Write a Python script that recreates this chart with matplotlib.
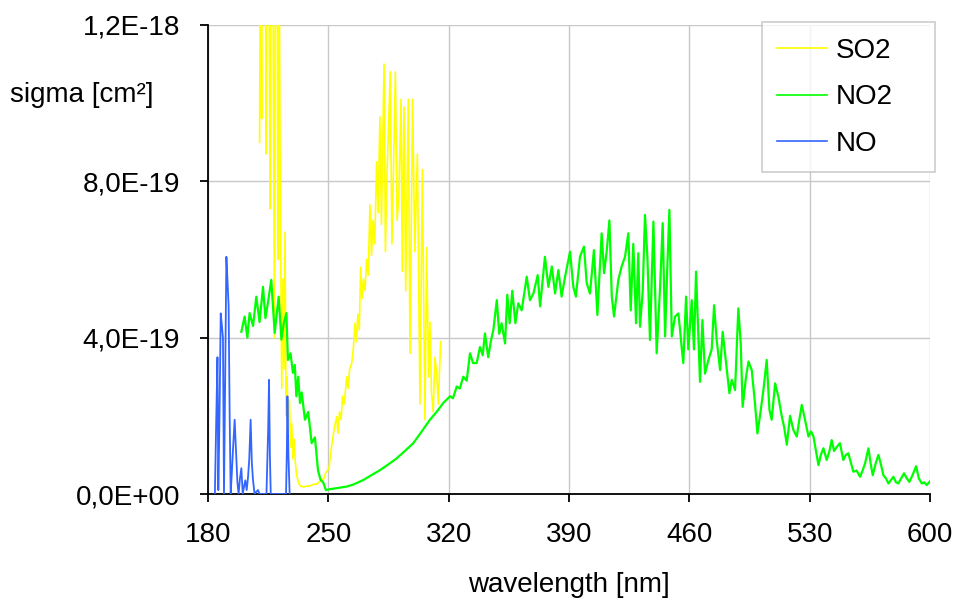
import matplotlib
matplotlib.use("Agg")
import matplotlib.pyplot as plt
from matplotlib.ticker import FixedLocator, FixedFormatter

plt.rcParams['font.family'] = ['Liberation Sans', 'DejaVu Sans']

# ---------------- data (cross sections in units of 1e-19 cm^2) ----------------
so2_wl = [210.0, 210.6, 211.2, 211.8, 212.4, 213.0, 213.7, 214.3, 215.0, 215.6,
          216.2, 216.8, 217.4, 218.0, 218.7, 219.3, 220.0, 220.6, 221.3, 222.0,
          222.9, 223.6, 224.2, 224.8, 225.4, 226.0, 226.7, 227.4, 228.0, 228.7,
          229.4, 230.1, 230.8, 231.5, 232.3, 233.0, 234.0, 235.5, 237.0, 238.5,
          240.0, 241.5, 243.0, 244.5, 246.0, 247.5, 248.5, 249.5, 250.5, 251.5,
          252.5, 253.5, 254.9, 255.6, 256.5, 257.4, 258.3, 259.2, 260.7, 261.5,
          262.4, 263.6, 264.5, 265.5, 266.3, 267.2, 268.0, 268.8, 269.6, 270.4,
          271.3, 272.3, 273.2, 274.2, 275.1, 276.0, 277.0, 278.1, 279.0, 280.0,
          280.9, 281.6, 282.4, 283.2, 284.0, 285.0, 286.0, 287.0, 288.0, 289.0,
          290.0, 291.0, 292.3, 293.0, 294.0, 295.0, 296.5, 297.5, 299.0, 300.3,
          301.8, 303.3, 304.7, 306.2, 307.2, 308.3, 309.1, 310.0, 311.0, 312.0,
          313.0, 314.0, 315.3]
so2_val = [9.0, 16, 9.6, 22, 14, 24, 8.7, 20, 26, 12,
           7.3, 19, 24, 11, 4.0, 17, 21, 6, 15, 8,
           2.7, 5.5, 3.2, 6.7, 2.0, 3.0, 1.6, 2.4, 1.2, 1.8,
           0.9, 1.4, 0.8, 0.5, 0.35, 0.25, 0.2, 0.18, 0.2, 0.2,
           0.22, 0.25, 0.25, 0.3, 0.35, 0.4, 0.55, 0.6, 0.7, 1.1,
           1.4, 1.7, 1.98, 1.55, 2.1, 1.9, 2.5, 2.3, 3.0, 2.7,
           3.2, 3.35, 3.7, 4.37, 3.9, 4.6, 4.2, 5.8, 5.0, 5.5,
           5.2, 6.0, 5.6, 7.4, 6.1, 7.0, 6.4, 8.5, 7.2, 9.65,
           6.9, 8.8, 11.0, 6.2, 8.0, 9.35, 10.8, 6.4, 8.5, 10.8,
           7.0, 7.6, 10.1, 5.7, 9.9, 5.2, 10.1, 3.6, 10.1, 6.2,
           8.7, 2.3, 8.3, 1.9, 6.3, 3.0, 4.4, 2.6, 2.1, 3.5,
           3.1, 2.3, 3.9]

no2_wl = [199.4, 201.3, 202.9, 204.2, 206.2, 208.1, 210.0, 212.0, 213.4, 214.9,
          216.8, 218.8, 221.1, 222.7, 224.2, 225.6, 226.5, 228.0, 229.4, 230.5,
          231.4, 232.5, 233.5, 234.5, 236.4, 238.3, 240.3, 242.2, 244.0, 245.5,
          247.0, 248.6, 250.5, 255.0, 260.7, 265.0, 270.4, 275.0, 280.0, 285.0,
          289.7, 294.5, 299.4, 304.0, 309.1, 313.0, 316.9, 320.8, 322.5, 324.7,
          326.5, 328.5, 330.5, 332.4, 334.2, 336.3, 338.2, 339.8, 341.1, 343.0,
          344.5, 346.0, 348.0, 349.4, 350.8, 352.8, 354.1, 355.5, 357.0, 358.8,
          360.5, 362.5, 365.4, 367.3, 369.3, 371.8, 373.2, 376.0, 378.0, 380.0,
          381.9, 383.8, 385.7, 387.7, 390.6, 392.5, 394.0, 396.4, 398.7, 400.3,
          402.2, 404.5, 406.5, 409.0, 410.4, 412.0, 413.5, 414.9, 416.2, 418.7,
          420.6, 422.6, 424.5, 425.9, 427.4, 429.0, 430.3, 431.3, 432.9, 434.2,
          435.6, 437.1, 439.1, 441.0, 443.0, 444.5, 445.9, 447.2, 448.4, 449.8,
          451.7, 453.6, 454.6, 455.5, 456.5, 458.1, 459.4, 461.4, 462.7, 463.9,
          465.3, 466.2, 467.6, 469.1, 471.1, 473.0, 474.4, 475.9, 477.9, 479.4,
          481.4, 483.3, 484.7, 486.6, 488.5, 489.9, 491.0, 493.0, 494.4, 496.3,
          498.2, 499.6, 501.1, 503.1, 505.0, 506.6, 507.9, 509.9, 511.8, 513.7,
          515.2, 516.7, 518.6, 520.5, 522.5, 524.0, 525.4, 527.3, 529.3, 530.8,
          532.2, 533.7, 535.1, 536.5, 538.0, 539.9, 541.5, 542.8, 544.2, 545.7,
          547.6, 549.6, 551.0, 552.5, 554.0, 555.4, 557.3, 559.3, 560.8, 562.2,
          564.2, 565.4, 566.7, 568.5, 570.0, 571.5, 572.9, 574.4, 575.8, 577.2,
          578.7, 580.2, 581.6, 583.2, 584.9, 586.5, 588.0, 590.0, 591.9, 593.5,
          595.2, 596.6, 598.1, 599.5, 601.0]
no2_val = [4.15, 4.54, 4.0, 4.63, 4.3, 5.05, 4.4, 5.3, 4.5, 4.9,
           5.48, 4.12, 5.05, 3.95, 4.4, 4.63, 3.43, 3.6, 3.1, 3.3,
           2.5, 3.0, 2.33, 2.6, 1.9, 2.1, 1.3, 1.45, 0.6, 0.36,
           0.3, 0.1, 0.12, 0.15, 0.19, 0.25, 0.36, 0.48, 0.61, 0.76,
           0.91, 1.1, 1.3, 1.58, 1.9, 2.1, 2.33, 2.5, 2.45, 2.75,
           2.7, 3.0, 2.9, 3.6, 3.35, 3.35, 3.76, 3.55, 4.11, 3.5,
           3.9, 4.2, 4.96, 4.1, 4.37, 3.85, 5.1, 4.37, 5.2, 4.37,
           4.88, 4.7, 5.56, 4.96, 5.13, 5.6, 4.8, 6.07, 5.3, 5.82,
           5.13, 5.73, 5.05, 5.56, 6.2, 5.3, 5.05, 6.07, 6.33, 5.4,
           5.13, 6.24, 4.58, 6.67, 5.65, 6.24, 7.0, 5.05, 4.54, 5.48,
           5.82, 6.07, 6.67, 4.7, 6.4, 4.37, 6.16, 4.28, 5.2, 7.14,
           6.07, 3.94, 6.97, 3.6, 5.3, 6.93, 4.03, 5.82, 7.27, 4.03,
           4.54, 4.62, 4.2, 3.77, 3.35, 5.05, 3.7, 4.96, 3.7, 5.69,
           3.94, 2.87, 4.45, 3.08, 3.43, 3.7, 4.83, 3.94, 3.17, 4.15,
           3.35, 2.58, 2.92, 2.66, 4.75, 3.85, 2.23, 3.0, 3.39, 3.17,
           2.32, 1.55, 2.0, 2.66, 3.43, 2.15, 1.9, 2.83, 2.49, 2.0,
           1.7, 1.26, 2.0, 1.64, 1.47, 1.9, 2.28, 1.9, 1.47, 1.6,
           1.47, 1.1, 0.74, 1.0, 1.17, 0.87, 1.1, 1.38, 1.1, 1.2,
           1.3, 0.87, 1.0, 1.04, 0.8, 0.57, 0.6, 0.44, 0.6, 0.78,
           1.17, 0.8, 0.48, 0.8, 1.0, 0.75, 0.48, 0.4, 0.27, 0.35,
           0.44, 0.3, 0.27, 0.4, 0.53, 0.4, 0.31, 0.5, 0.71, 0.4,
           0.27, 0.3, 0.23, 0.3, 0.38]

no_wl = [184.0, 184.8, 185.5, 186.0, 186.7, 187.4, 188.1, 188.7, 189.3, 190.0,
         190.7, 191.3, 192.0, 192.6, 193.2, 193.8, 194.5, 195.5, 196.3, 197.1,
         197.8, 198.6, 199.4, 200.2, 201.0, 201.7, 202.5, 203.3, 204.0, 204.8,
         205.5, 206.2, 207.1, 208.0, 209.1, 210.0, 214.0, 214.6, 215.0, 215.5,
         216.0, 216.5, 225.4, 225.9, 226.2, 226.8, 227.5]
no_val = [0.0, 1.9, 3.5, 0.1, 2.0, 4.62, 4.3, 4.0, 0.0, 3.0,
          6.07, 5.5, 4.8, 2.0, 0.0, 0.5, 1.1, 1.9, 1.1, 0.3,
          0.0, 0.4, 0.66, 0.0, 0.2, 0.35, 0.1, 0.44, 0.9, 1.9,
          0.8, 0.35, 0.0, 0.05, 0.1, 0.0, 0.0, 1.0, 1.64, 2.92,
          1.0, 0.0, 0.0, 1.2, 2.5, 0.96, 0.0]

unit = 1e-19
x_ticks = [180, 250, 320, 390, 460, 530, 600]
y_ticks = [0.0, 4e-19, 8e-19, 1.2e-18]
y_tick_labels = ['0,0E+00', '4,0E-19', '8,0E-19', '1,2E-18']
series_names = ['SO2', 'NO2', 'NO']

# ---------------- figure ----------------
W, H = 959, 608
FS = 20
fig = plt.figure(figsize=(W / 100, H / 100), dpi=100)
ax = fig.add_axes([208 / W, 1 - 494 / H, (930 - 208) / W, (494 - 25) / H])

ax.plot(so2_wl, [v * unit for v in so2_val], color='#FFFF00', lw=1.2,
        label=series_names[0], zorder=3)
ax.plot(no2_wl, [v * unit for v in no2_val], color='#00FF00', lw=1.6,
        label=series_names[1], zorder=4)
ax.plot(no_wl, [v * unit for v in no_val], color='#3366FF', lw=1.3,
        label=series_names[2], zorder=3.5)

ax.set_xlim(180, 600)
ax.set_ylim(0, 1.2e-18)
ax.xaxis.set_major_locator(FixedLocator(x_ticks))
ax.yaxis.set_major_locator(FixedLocator(y_ticks))
ax.yaxis.set_major_formatter(FixedFormatter(y_tick_labels))

ax.grid(True, color='#c8c8c8', lw=1.0, zorder=0)
ax.set_axisbelow(True)
for s in ['top', 'right']:
    ax.spines[s].set_visible(False)
for s in ['left', 'bottom']:
    ax.spines[s].set_color('black')
    ax.spines[s].set_linewidth(1.3)

ax.tick_params(axis='both', direction='out', length=6, width=1.3,
               labelsize=FS, colors='black')
ax.tick_params(axis='x', pad=14)
ax.tick_params(axis='y', pad=14)

fig.text(10 / W, 1 - 95 / H, 'sigma [cm²]', fontsize=FS, ha='left', va='center')
fig.text(569 / W, 1 - 585 / H, 'wavelength [nm]', fontsize=FS, ha='center', va='center')

leg = ax.legend(loc='upper left',
                bbox_to_anchor=(762 / W, 1 - 23 / H, 173 / W, 0.001),
                bbox_transform=fig.transFigure, mode='expand', borderaxespad=0,
                fontsize=FS, frameon=True, fancybox=False, handlelength=1.8,
                handletextpad=0.3, labelspacing=0.74, borderpad=0.55)
leg.get_frame().set_edgecolor('#c0c0c0')
leg.get_frame().set_linewidth(1.2)
for line in leg.get_lines():
    line.set_linewidth(1.2)

fig.savefig('out.png', dpi=100)
